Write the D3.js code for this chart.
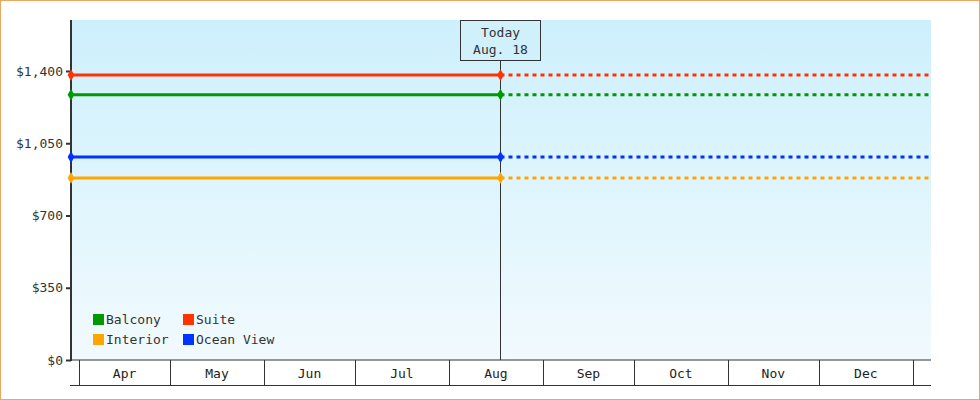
<!DOCTYPE html>
<html><head><meta charset="utf-8">
<script src="https://cdn.jsdelivr.net/npm/d3@7"></script>
<style>body{margin:0}svg{display:block;font-family:"DejaVu Sans Mono",monospace}</style>
</head><body><svg id="c" width="980" height="400"></svg>
<script>
const seriesNames = ['Suite', 'Balcony', 'Ocean View', 'Interior'];
const seriesColors = ['#ff3300', '#009900', '#0033ff', '#ffa500'];
const seriesValues = [1380, 1285, 983, 882];
const yTicks = [0, 350, 700, 1050, 1400];
const months = ['Apr', 'May', 'Jun', 'Jul', 'Aug', 'Sep', 'Oct', 'Nov', 'Dec'];
const todayDate = new Date(2024, 7, 18);
const legendOrder = ['Balcony', 'Suite', 'Interior', 'Ocean View'];

const svg = d3.select('#c');
const L = 71, R = 931, T = 20, B = 360;
const x = d3.scaleTime().domain([new Date(2024, 2, 29, 8), new Date(2025, 0, 7)]).range([L, R]);
const y = d3.scaleLinear().domain([0, 1647]).range([B, T]);

svg.append('rect').attr('x', 0).attr('y', 0).attr('width', 980).attr('height', 400).attr('fill', 'white');
const g = svg.append('defs').append('linearGradient').attr('id', 'bg').attr('x1', 0).attr('y1', 0).attr('x2', 0).attr('y2', 1);
g.append('stop').attr('offset', 0).attr('stop-color', '#cdf0fc');
g.append('stop').attr('offset', 1).attr('stop-color', '#f1fafe');
svg.append('rect').attr('x', L).attr('y', T).attr('width', R - L).attr('height', B - T).attr('fill', 'url(#bg)');

// y axis
const ya = svg.append('g').attr('transform', `translate(${L},0)`)
  .call(d3.axisLeft(y).tickValues(yTicks).tickSize(5).tickFormat(d => '$' + d3.format(',')(d)));
ya.select('.domain').remove();
ya.selectAll('line').attr('stroke', '#333').attr('stroke-width', 2);
ya.selectAll('text').attr('font-family', 'DejaVu Sans Mono').attr('font-size', 13).attr('fill', '#333');
svg.append('line').attr('x1', L).attr('x2', L).attr('y1', T).attr('y2', B + 1).attr('stroke', '#333').attr('stroke-width', 2);
svg.append('line').attr('x1', L - 1).attr('x2', R).attr('y1', B).attr('y2', B).attr('stroke', '#333').attr('stroke-width', 1);

// month boxes
const mStarts = months.map((m, i) => new Date(2024, 3 + i, 1));
const bands = svg.append('g');
mStarts.concat([new Date(2025, 0, 1)]).forEach(d => {
  bands.append('line').attr('x1', Math.round(x(d)) + 0.5).attr('x2', Math.round(x(d)) + 0.5)
    .attr('y1', B).attr('y2', 385).attr('stroke', '#333');
});
bands.append('line').attr('x1', L - 1).attr('x2', R).attr('y1', 385.5).attr('y2', 385.5).attr('stroke', '#333');
months.forEach((m, i) => {
  const mid = (x(mStarts[i]) + x(new Date(2024, 4 + i, 1))) / 2;
  bands.append('text').attr('x', mid).attr('y', 378).attr('text-anchor', 'middle')
    .attr('font-size', 13).attr('fill', '#222').text(m);
});

// today line
const tx = Math.round(x(todayDate)) + 0.5;
svg.append('line').attr('x1', tx).attr('x2', tx).attr('y1', 60).attr('y2', B).attr('stroke', '#333');
svg.append('rect').attr('x', 460.5).attr('y', 20.5).attr('width', 80).attr('height', 40)
  .attr('fill', '#d0f0fc').attr('stroke', '#333');
svg.append('text').attr('x', tx).attr('y', 37).attr('text-anchor', 'middle').attr('font-size', 13).attr('fill', '#333').text('Today');
svg.append('text').attr('x', tx).attr('y', 54).attr('text-anchor', 'middle').attr('font-size', 13).attr('fill', '#333').text('Aug. 18');

// series
seriesNames.forEach((n, i) => {
  const yy = y(seriesValues[i]);
  svg.append('line').attr('x1', L).attr('x2', x(todayDate)).attr('y1', yy).attr('y2', yy)
    .attr('stroke', seriesColors[i]).attr('stroke-width', 3);
  svg.append('line').attr('x1', x(todayDate)).attr('x2', R + 40).attr('y1', yy).attr('y2', yy)
    .attr('stroke', seriesColors[i]).attr('stroke-width', 3).attr('stroke-dasharray', '4,4');
  [L, x(todayDate)].forEach(px => {
    svg.append('path').attr('d', d3.symbol(d3.symbolDiamond, 40)())
      .attr('transform', `translate(${px},${yy})`).attr('fill', seriesColors[i]);
  });
});
svg.append('rect').attr('x', R).attr('y', 1).attr('width', 48).attr('height', 398).attr('fill', 'white');
svg.append('rect').attr('x', 0.5).attr('y', 0.5).attr('width', 979).attr('height', 399)
  .attr('fill', 'none').attr('stroke', '#e8a860');

// legend
legendOrder.forEach((n, i) => {
  const c = seriesColors[seriesNames.indexOf(n)];
  const lx = 93 + (i % 2) * 90, ly = 314 + Math.floor(i / 2) * 20;
  svg.append('rect').attr('x', lx).attr('y', ly).attr('width', 11).attr('height', 11).attr('fill', c);
  svg.append('text').attr('x', lx + 13).attr('y', ly + 10).attr('font-size', 13).attr('fill', '#333').text(n);
});
</script></body></html>
